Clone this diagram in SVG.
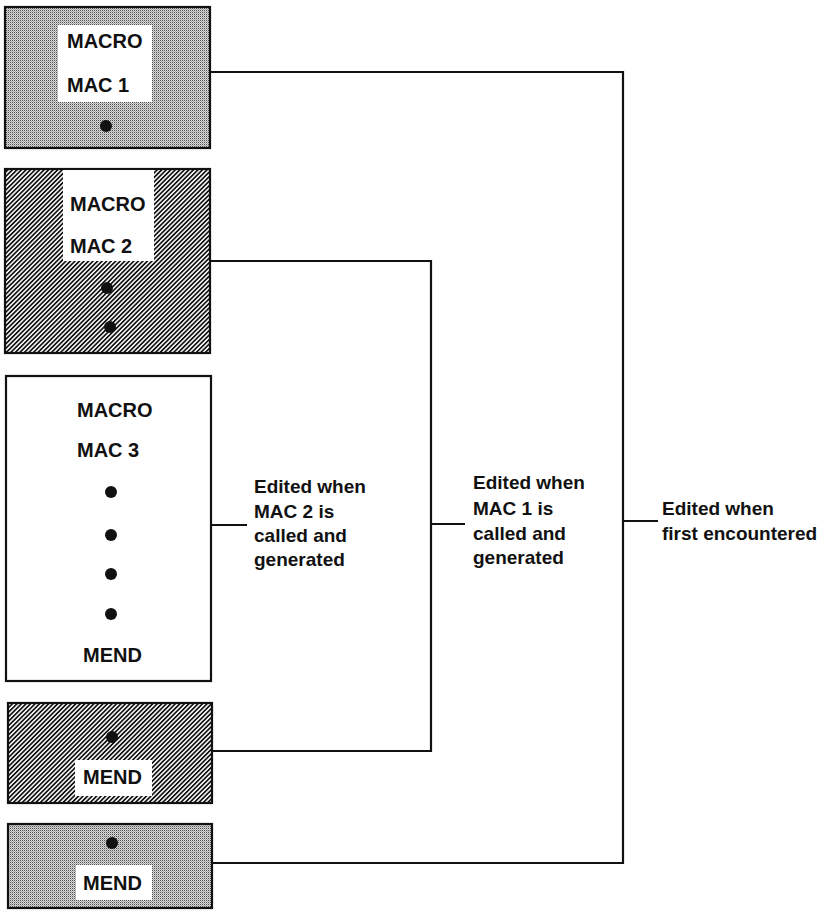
<svg xmlns="http://www.w3.org/2000/svg" width="820" height="911" viewBox="0 0 820 911">
<defs>
<pattern id="stipple" patternUnits="userSpaceOnUse" width="2" height="2">
<rect width="2" height="2" fill="#d8d8d8"/>
<rect width="1" height="1" fill="#505050"/>
<rect x="1" y="1" width="1" height="1" fill="#a8a8a8"/>
</pattern>
<pattern id="hatch" patternUnits="userSpaceOnUse" width="3.2" height="3.2" patternTransform="rotate(45)">
<rect width="3.2" height="3.2" fill="#ffffff"/>
<rect width="1.7" height="3.2" fill="#111"/>
</pattern>
</defs>
<style>
.box{stroke:#111;stroke-width:2.2}
.lbl{fill:#fff}
.t{font-family:"Liberation Sans",Arial,sans-serif;font-weight:bold;font-size:19px;fill:#111}
.b{font-size:20px}
.dot{fill:#111}
.con{fill:none;stroke:#111;stroke-width:2.2}
</style>
<rect width="820" height="911" fill="#fff"/>
<g id="box1">
<rect class="box" x="5" y="7" width="205" height="141" fill="url(#stipple)"/>
<rect class="lbl" x="58" y="25" width="94" height="77"/>
<text class="t b" x="67" y="48">MACRO</text>
<text class="t b" x="67" y="92">MAC 1</text>
<circle class="dot" cx="106" cy="126" r="6"/>
</g>
<g id="box2">
<rect class="box" x="5" y="169" width="205" height="184" fill="url(#hatch)"/>
<rect class="lbl" x="63" y="170" width="91" height="91"/>
<text class="t b" x="70" y="211">MACRO</text>
<text class="t b" x="70" y="253">MAC 2</text>
<circle class="dot" cx="107" cy="288" r="6"/>
<circle class="dot" cx="110" cy="327" r="6"/>
</g>
<g id="box3">
<rect class="box" x="6" y="376" width="205" height="305" fill="#fff"/>
<text class="t b" x="77" y="417">MACRO</text>
<text class="t b" x="77" y="457">MAC 3</text>
<circle class="dot" cx="111" cy="492" r="6"/>
<circle class="dot" cx="111" cy="535" r="6"/>
<circle class="dot" cx="111" cy="574" r="6"/>
<circle class="dot" cx="111" cy="614" r="6"/>
<text class="t b" x="83" y="662">MEND</text>
</g>
<g id="box4">
<rect class="box" x="8" y="703" width="204" height="100" fill="url(#hatch)"/>
<rect class="lbl" x="75" y="760" width="77" height="36"/>
<circle class="dot" cx="112" cy="737" r="6"/>
<text class="t b" x="83" y="784">MEND</text>
</g>
<g id="box5">
<rect class="box" x="8" y="824" width="204" height="84" fill="url(#stipple)"/>
<rect class="lbl" x="76" y="865" width="76" height="35"/>
<circle class="dot" cx="112" cy="843" r="6"/>
<text class="t b" x="83" y="890">MEND</text>
</g>
<g id="connectors">
<path class="con" d="M210 72 H623 V863 H212"/>
<path class="con" d="M623 521 H658"/>
<path class="con" d="M210 261 H431 V751 H212"/>
<path class="con" d="M431 524 H465"/>
<path class="con" d="M211 525 H247"/>
</g>
<g id="labels">
<text class="t" x="254" y="493">Edited when</text>
<text class="t" x="254" y="518">MAC 2 is</text>
<text class="t" x="254" y="542">called and</text>
<text class="t" x="254" y="566">generated</text>
<text class="t" x="473" y="489">Edited when</text>
<text class="t" x="473" y="515">MAC 1 is</text>
<text class="t" x="473" y="540">called and</text>
<text class="t" x="473" y="564">generated</text>
<text class="t" x="662" y="515">Edited when</text>
<text class="t" x="662" y="540">first encountered</text>
</g>
</svg>
